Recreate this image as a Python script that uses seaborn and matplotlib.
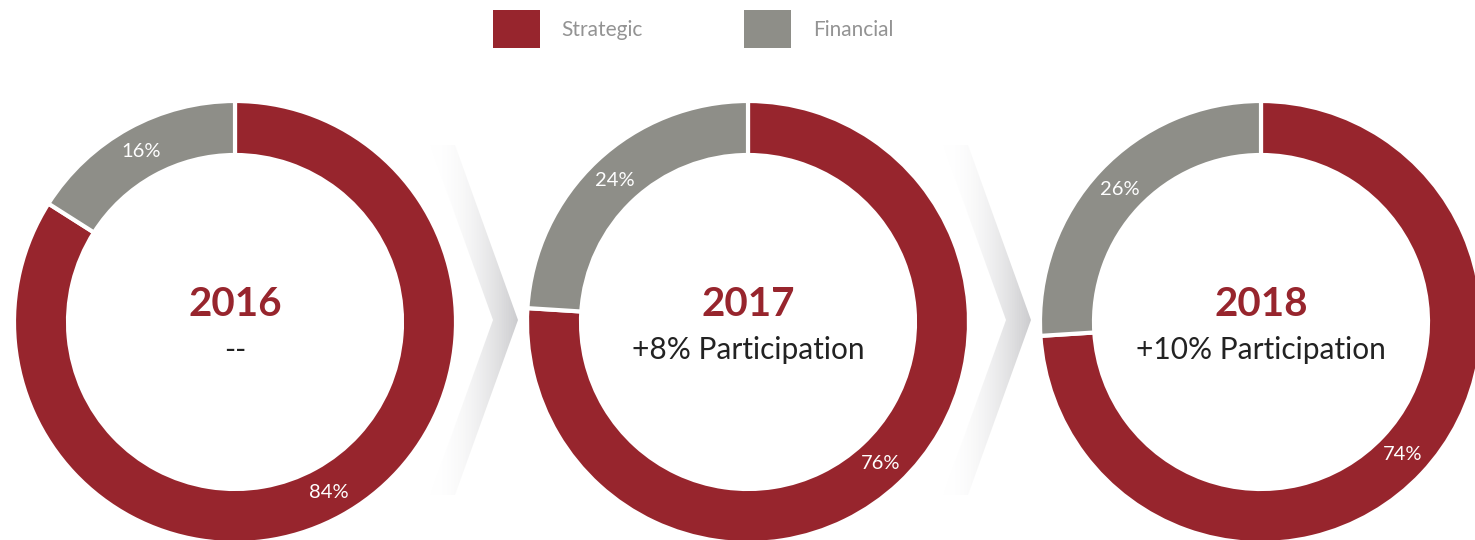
import numpy as np
import matplotlib
matplotlib.use("Agg")
import matplotlib.pyplot as plt
import seaborn as sns
from matplotlib.patches import Patch, Polygon

# data
years = ["2016", "2017", "2018"]
subtitles = ["--", "+8% Participation", "+10% Participation"]
strategic = [84, 76, 74]
financial = [16, 24, 26]
series_names = ["Strategic", "Financial"]

RED = "#97252d"
GRAY = "#8e8e88"

sns.set_theme(style="white")
plt.rcParams["font.family"] = ["Lato", "DejaVu Sans"]

W, H = 1475, 540
fig = plt.figure(figsize=(W / 100, H / 100), dpi=100)
ax = fig.add_axes([0, 0, 1, 1])

# pixel-like data space (y measured from bottom)
centers_x = [235, 748, 1261]
center_y = H - 322
r_out, r_in = 221, 167

# chevron arrows with a left-to-right gradient
grad = np.linspace(0, 1, 256).reshape(1, -1)
cmap = matplotlib.colors.LinearSegmentedColormap.from_list(
    "chev", [(1, 1, 1, 0.0), (0.80, 0.80, 0.81, 1.0)])
for cx in centers_x[:2]:
    x0 = cx + 195
    pts = [(x0, H - 145), (x0 + 25, H - 145), (x0 + 88, H - 320),
           (x0 + 25, H - 495), (x0, H - 495), (x0 + 63, H - 320)]
    poly = Polygon(pts, closed=True, facecolor="none", edgecolor="none")
    ax.add_patch(poly)
    im = ax.imshow(grad, cmap=cmap, extent=(x0, x0 + 88, H - 495, H - 145),
                   aspect="auto", zorder=0, origin="lower")
    im.set_clip_path(poly)

for i, cx in enumerate(centers_x):
    wedges, texts, autotexts = ax.pie(
        [strategic[i], financial[i]],
        colors=[RED, GRAY],
        startangle=90, counterclock=False,
        center=(cx, center_y), radius=r_out,
        autopct=lambda p: f"{p:.0f}%", pctdistance=(r_out + r_in) / 2 / r_out,
        wedgeprops=dict(width=r_out - r_in, edgecolor="white", linewidth=3),
        textprops=dict(color="white", fontsize=14.5),
    )
    for w in wedges:
        w.set_zorder(2)
    for t in autotexts:
        t.set_zorder(3)
    ax.text(cx, H - 305, years[i], ha="center", va="center",
            fontsize=29, fontweight="bold", color=RED)
    ax.text(cx, H - 350, subtitles[i], ha="center", va="center",
            fontsize=21.5, color="#222222")

handles = [Patch(facecolor=RED, edgecolor="none"), Patch(facecolor=GRAY, edgecolor="none")]
leg = fig.legend(handles, series_names, loc="upper left",
                 bbox_to_anchor=(493 / W, 1 - 10 / H), ncol=2, frameon=False,
                 fontsize=15, handlelength=2.25, handleheight=2.45,
                 handletextpad=1.05, columnspacing=4.85, borderpad=0,
                 borderaxespad=0)
for t in leg.get_texts():
    t.set_color("#939393")

ax.set_xlim(0, W)
ax.set_ylim(0, H)
ax.set_aspect("auto")
ax.axis("off")

fig.savefig("out.png", dpi=100, facecolor="white")
